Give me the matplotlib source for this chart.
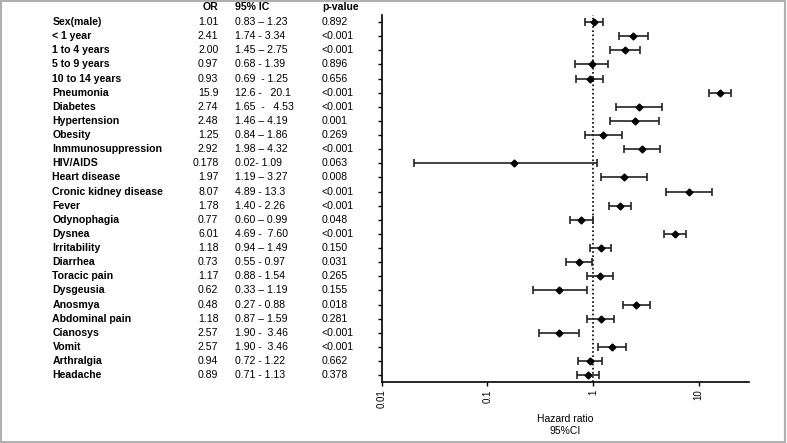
import numpy as np
import matplotlib
matplotlib.use("Agg")
import matplotlib.pyplot as plt
from matplotlib.transforms import blended_transform_factory
from matplotlib.patches import Rectangle

plt.rcParams['font.family'] = ['Liberation Sans', 'DejaVu Sans']

# table rows
labels = ["Sex(male)", "< 1 year", "1 to 4 years", "5 to 9 years", "10 to 14 years",
          "Pneumonia", "Diabetes", "Hypertension", "Obesity", "Inmmunosuppression",
          "HIV/AIDS", "Heart disease", "Cronic kidney disease", "Fever", "Odynophagia",
          "Dysnea", "Irritability", "Diarrhea", "Toracic pain", "Dysgeusia",
          "Anosmya", "Abdominal pain", "Cianosys", "Vomit", "Arthralgia", "Headache"]
or_text = ["1.01", "2.41", "2.00", "0.97", "0.93", "15.9", "2.74", "2.48", "1.25", "2.92",
           "0.178", "1.97", "8.07", "1.78", "0.77", "6.01", "1.18", "0.73", "1.17", "0.62",
           "0.48", "1.18", "2.57", "2.57", "0.94", "0.89"]
ic_text = ["0.83 \u2013 1.23", "1.74 - 3.34", "1.45 \u2013 2.75", "0.68 - 1.39", "0.69  - 1.25",
           "12.6 -   20.1", "1.65  -   4.53", "1.46 \u2013 4.19", "0.84 \u2013 1.86", "1.98 \u2013 4.32",
           "0.02- 1.09", "1.19 \u2013 3.27", "4.89 - 13.3", "1.40 - 2.26", "0.60 \u2013 0.99",
           "4.69 -  7.60", "0.94 \u2013 1.49", "0.55 - 0.97", "0.88 - 1.54", "0.33 \u2013 1.19",
           "0.27 - 0.88", "0.87 \u2013 1.59", "1.90 -  3.46", "1.90 -  3.46", "0.72 - 1.22",
           "0.71 - 1.13"]
p_text = ["0.892", "<0.001", "<0.001", "0.896", "0.656", "<0.001", "<0.001", "0.001", "0.269",
          "<0.001", "0.063", "0.008", "<0.001", "<0.001", "0.048", "<0.001", "0.150", "0.031",
          "0.265", "0.155", "0.018", "0.281", "<0.001", "<0.001", "0.662", "0.378"]

# plotted estimates (as drawn in the forest plot)
est = [1.01, 2.41, 2.00, 0.97, 0.93, 15.9, 2.74, 2.48, 1.25, 2.92, 0.178, 1.97, 8.07, 1.78,
       0.77, 6.01, 1.18, 0.73, 1.17, 0.48, 2.57, 1.18, 0.48, 1.51, 0.94, 0.89]
lo = [0.83, 1.74, 1.45, 0.68, 0.69, 12.6, 1.65, 1.46, 0.84, 1.98, 0.02, 1.19, 4.89, 1.40,
      0.60, 4.69, 0.94, 0.55, 0.88, 0.27, 1.90, 0.87, 0.31, 1.11, 0.72, 0.71]
hi = [1.23, 3.34, 2.75, 1.39, 1.25, 20.1, 4.53, 4.19, 1.86, 4.32, 1.09, 3.27, 13.3, 2.26,
      0.99, 7.60, 1.49, 0.97, 1.54, 0.88, 3.46, 1.59, 0.74, 2.04, 1.22, 1.13]

est = np.array(est)
lo = np.array(lo)
hi = np.array(hi)
y = np.arange(len(labels))

fig = plt.figure(figsize=(7.87, 4.43), dpi=100)
ax = fig.add_axes([0.485, 0.137, 0.467, 0.829])

ax.errorbar(est, y, xerr=[est - lo, hi - est], fmt='D', color='black', ecolor='#222222',
            markersize=3.5, elinewidth=1.2, capsize=3, capthick=1.2)
ax.axvline(1, color='black', linestyle=(0, (1, 1.5)), linewidth=1.2, zorder=0)

ax.set_xscale('log')
ax.set_xlim(0.01, 30)
ax.set_ylim(len(labels) - 0.5, -0.5)
ax.set_xticks([0.01, 0.1, 1, 10])
ax.set_xticklabels(["0.01", "0.1", "1", "10"], rotation=90, fontsize=7)
ax.xaxis.set_minor_locator(matplotlib.ticker.NullLocator())
ax.set_yticks(y)
ax.set_yticklabels([])
ax.tick_params(axis='y', length=3, width=1)
ax.tick_params(axis='x', length=3, width=1, pad=2)
for s in ['top', 'right']:
    ax.spines[s].set_visible(False)
for s in ['left', 'bottom']:
    ax.spines[s].set_linewidth(1.2)
ax.set_xlabel("Hazard ratio\n95%CI", fontsize=7.5, labelpad=4, linespacing=1.25)

tr = blended_transform_factory(fig.transFigure, ax.transData)
fs = 7.6
for i in range(len(labels)):
    ax.text(52.5 / 787, i, labels[i], transform=tr, fontsize=fs, fontweight='bold',
            va='center', ha='left', clip_on=False)
    ax.text(218.5 / 787, i, or_text[i], transform=tr, fontsize=fs, va='center', ha='right',
            clip_on=False)
    ax.text(235 / 787, i, ic_text[i], transform=tr, fontsize=fs, va='center', ha='left',
            clip_on=False)
    ax.text(322 / 787, i, p_text[i], transform=tr, fontsize=fs, va='center', ha='left',
            clip_on=False)

hy = -1.05
ax.text(218.5 / 787, hy, "OR", transform=tr, fontsize=fs, fontweight='bold', va='center',
        ha='right', clip_on=False)
ax.text(235 / 787, hy, "95% IC", transform=tr, fontsize=fs, fontweight='bold', va='center',
        ha='left', clip_on=False)
ax.text(322 / 787, hy, "p-value", transform=tr, fontsize=fs, fontweight='bold', va='center',
        ha='left', clip_on=False)

# light frame round the picture
fig.patches.append(Rectangle((0.001, 0.002), 0.997, 0.995, transform=fig.transFigure,
                             fill=False, edgecolor='#b0b0b0', linewidth=1.5))

fig.savefig("out.png", dpi=100)
